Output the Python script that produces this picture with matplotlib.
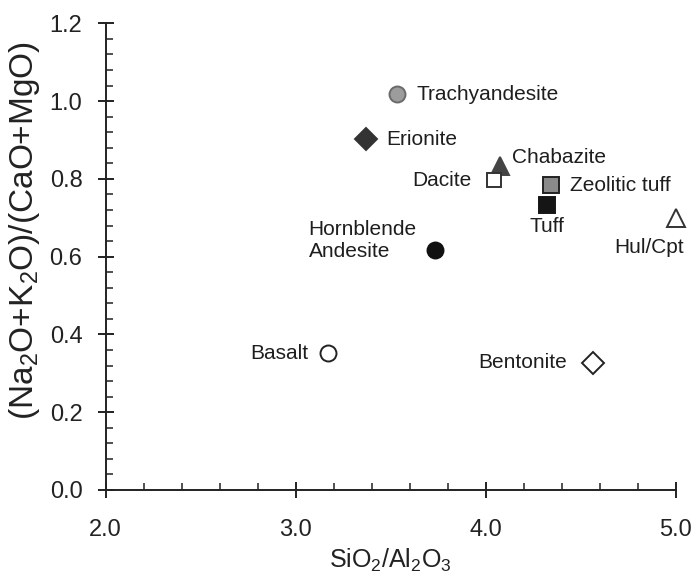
import matplotlib
matplotlib.use("Agg")
import matplotlib.pyplot as plt
from matplotlib.ticker import MultipleLocator, FormatStrFormatter

plt.rcParams['font.family'] = ['Liberation Sans', 'DejaVu Sans']
plt.rcParams['mathtext.fontset'] = 'custom'
plt.rcParams['mathtext.rm'] = 'Liberation Sans'
plt.rcParams['mathtext.default'] = 'regular'

# data
names = ["Trachyandesite", "Erionite", "Chabazite", "Dacite", "Zeolitic tuff",
         "Tuff", "Hul/Cpt", "Hornblende\nAndesite", "Basalt", "Bentonite"]
sio2_al2o3 = [3.534, 3.368, 4.074, 4.043, 4.342, 4.321, 5.0, 3.732, 3.169, 4.563]
alkali_ratio = [1.017, 0.902, 0.834, 0.797, 0.784, 0.733, 0.700, 0.616, 0.351, 0.327]

# marker styles: (marker, size, face, edge)
styles = [
    ("o", 11.5, "#9c9c9c", "#6a6a6a"),
    ("D", 11.5, "#333333", "#333333"),
    ("^", 12.5, "#444444", "#444444"),
    ("s", 10.5, "white", "#333333"),
    ("s", 11.0, "#8a8a8a", "#222222"),
    ("s", 11.0, "#151515", "#151515"),
    ("^", 12.5, "white", "#333333"),
    ("o", 11.5, "#111111", "#111111"),
    ("o", 11.5, "white", "#222222"),
    ("D", 11.0, "white", "#222222"),
]

# label offsets in points and alignment
offsets = [
    ((14, 0), "left", "center"),
    ((15, 0), "left", "center"),
    ((8.5, 6), "left", "center"),
    ((-16, 0), "right", "center"),
    ((14, 0), "left", "center"),
    ((0, -15.6), "center", "center"),
    ((-19.7, -21.6), "center", "center"),
    ((-13, 6.8), "right", "center"),
    ((-14.4, 0), "right", "center"),
    ((-18.7, 0), "right", "center"),
]

fig = plt.figure(figsize=(6.94, 5.73), dpi=100)
ax = fig.add_axes([0.1523, 0.1449, 0.974 - 0.1523, 0.9593 - 0.1449])

for x, y, (m, ms, fc, ec), name, (off, ha, va) in zip(
        sio2_al2o3, alkali_ratio, styles, names, offsets):
    ax.plot(x, y, marker=m, markersize=ms, markerfacecolor=fc,
            markeredgecolor=ec, markeredgewidth=1.4, linestyle="none",
            clip_on=False, zorder=3)
    ax.annotate(name, (x, y), xytext=off, textcoords="offset points",
                ha=ha, va=va, multialignment="left", fontsize=15,
                color="#1e1e1e")

ax.set_xlim(2.0, 5.0)
ax.set_ylim(0.0, 1.2)
ax.xaxis.set_major_locator(MultipleLocator(1.0))
ax.xaxis.set_minor_locator(MultipleLocator(0.2))
ax.yaxis.set_major_locator(MultipleLocator(0.2))
ax.yaxis.set_minor_locator(MultipleLocator(0.04))
ax.xaxis.set_major_formatter(FormatStrFormatter("%.1f"))
ax.yaxis.set_major_formatter(FormatStrFormatter("%.1f"))

for s in ["top", "right"]:
    ax.spines[s].set_visible(False)
for s in ["left", "bottom"]:
    ax.spines[s].set_linewidth(1.4)
    ax.spines[s].set_color("#222222")

ax.tick_params(which="major", direction="inout", length=11.5, width=1.4,
               color="#222222", labelsize=17, labelcolor="#222222")
ax.tick_params(which="minor", direction="in", length=5, width=1.2,
               color="#333333")
ax.tick_params(axis="x", which="major", pad=15)
ax.tick_params(axis="y", which="major", pad=11)

ax.set_xlabel("SiO$_2$/Al$_2$O$_3$", fontsize=18, color="#222222", labelpad=4)
ax.set_ylabel("(Na$_2$O+K$_2$O)/(CaO+MgO)", fontsize=24, color="#222222")
ax.yaxis.set_label_coords(-0.112, 0.557)

fig.savefig("out.png", dpi=100)
